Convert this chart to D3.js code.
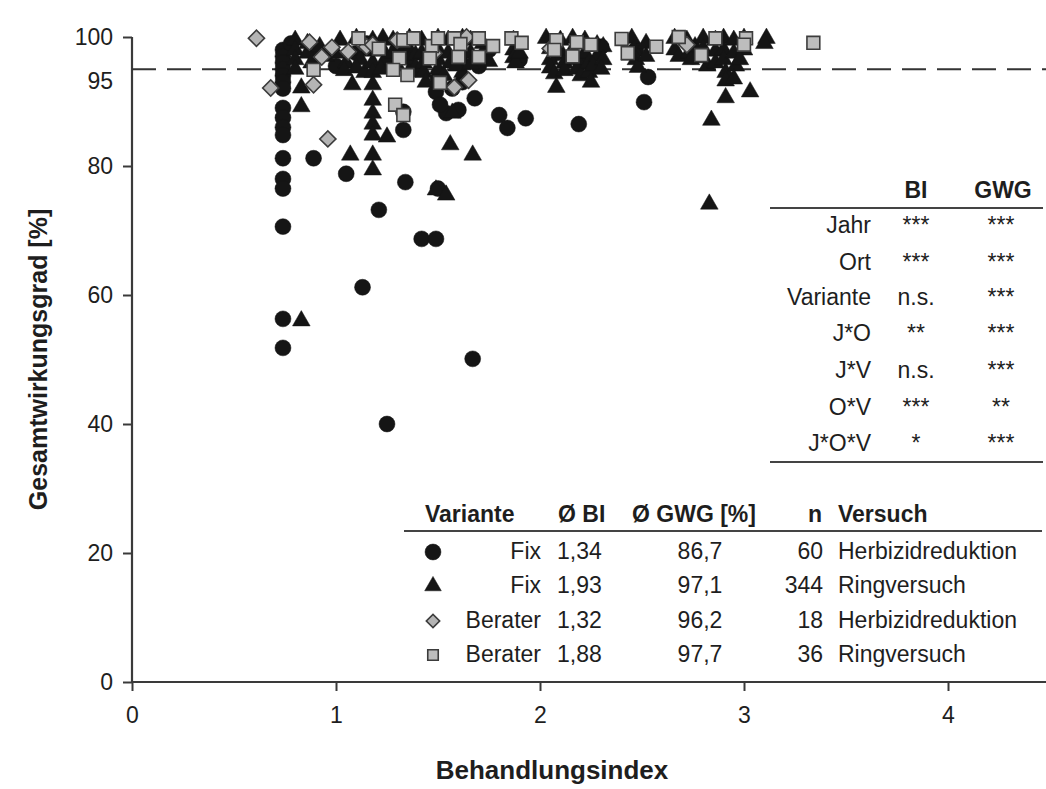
<!DOCTYPE html>
<html>
<head>
<meta charset="utf-8">
<script src="https://cdn.jsdelivr.net/npm/d3@7"></script>
<style>
  html, body { margin: 0; padding: 0; background: #ffffff; }
  svg { display: block; font-family: "Liberation Sans", Arial, sans-serif; }
</style>
</head>
<body>
<svg id="chart" width="1046" height="789"></svg>
<script>
// Behandlungsindex (BI) vs. Gesamtwirkungsgrad (GWG) per plot

// Fix, Herbizidreduktion (circles)
const fixHerbizid = [
  [0.74, 98], [0.74, 97], [0.74, 96], [0.74, 95], [0.74, 94], [0.74, 93], [0.74, 92],
  [0.74, 89], [0.74, 87.5], [0.74, 86], [0.74, 84.8], [0.74, 81.2], [0.74, 78],
  [0.74, 76.5], [0.74, 70.6], [0.74, 56.3], [0.74, 51.8],
  [0.89, 81.2], [1.05, 78.8], [1.13, 61.2], [1.21, 73.2], [1.25, 40], [1.34, 77.5],
  [1.42, 68.7], [1.49, 68.7], [1.67, 50.1], [1.33, 88.4], [1.33, 85.6], [1.49, 91.5],
  [1.54, 88.2], [1.6, 88.7], [1.68, 90.5], [1.51, 89.5], [1.8, 87.9], [1.84, 85.9],
  [1.93, 87.4], [2.19, 86.5], [2.53, 93.8], [2.51, 89.9], [1.5, 76.5],
  [0.78, 99], [0.9, 97], [1.0, 95.5], [1.1, 97.5], [1.15, 99], [1.25, 96], [1.3, 98],
  [1.38, 95], [1.45, 97], [1.5, 93.5], [1.57, 92], [1.62, 93], [1.7, 95.5], [1.75, 98],
  [1.9, 96.5], [2.08, 97.5], [2.2, 96], [2.3, 98.5], [2.47, 98], [2.75, 97]
];

// Fix, Ringversuch (triangles)
const fixRing = [
  [0.80, 99.5], [0.80, 98], [0.80, 96.5], [0.80, 95], [0.83, 92.1], [0.83, 89.2], [0.83, 56],
  [0.86, 99], [0.86, 97.5], [0.88, 96], [0.92, 98.5], [0.95, 97],
  [1.02, 99.5], [1.0, 97.5], [1.05, 96], [1.08, 92.6], [1.07, 81.7], [1.04, 94.8],
  [1.1, 99.8], [1.12, 98], [1.12, 96.5], [1.1, 95.2], [1.14, 94.5],
  [1.18, 99.5], [1.18, 97.8], [1.18, 96], [1.18, 94.5], [1.18, 92.6], [1.18, 90.2],
  [1.18, 88.2], [1.18, 86.5], [1.18, 84.8], [1.18, 81.7], [1.18, 79.4],
  [1.23, 99.8], [1.23, 98], [1.24, 96.5], [1.25, 84.5], [1.22, 95],
  [1.28, 99.5], [1.28, 97.5], [1.3, 95.5], [1.32, 98.8],
  [1.36, 99.8], [1.36, 98], [1.36, 96.5], [1.39, 97.2], [1.39, 95.3],
  [1.42, 99.5], [1.42, 97.5], [1.43, 96], [1.43, 94.5], [1.44, 93],
  [1.5, 99.8], [1.5, 98], [1.5, 96.5], [1.5, 95], [1.49, 76.3], [1.54, 75.5],
  [1.55, 99.5], [1.55, 97.5], [1.56, 96], [1.56, 83.3], [1.57, 88.2], [1.53, 94],
  [1.62, 99.8], [1.62, 98], [1.62, 96.5], [1.62, 94.5], [1.59, 95.5],
  [1.66, 99.5], [1.66, 97.5], [1.67, 81.7], [1.66, 95.8],
  [1.72, 99], [1.72, 97.5], [1.75, 96.2],
  [1.87, 99.5], [1.87, 98], [1.87, 96.8], [1.88, 96], [1.9, 97.5],
  [2.03, 99.8], [2.05, 98.2], [2.05, 96.5], [2.05, 95.2], [2.08, 92.2], [2.07, 94.3],
  [2.1, 99.5], [2.1, 97.8], [2.12, 96], [2.12, 94.8],
  [2.16, 99.8], [2.16, 98], [2.18, 96.5], [2.18, 95], [2.2, 94],
  [2.22, 99.5], [2.22, 97.5], [2.24, 96], [2.24, 94.5],
  [2.28, 98.8], [2.28, 97], [2.26, 95.5], [2.25, 93],
  [2.31, 98.5], [2.31, 96.5], [2.3, 95],
  [2.45, 99.8], [2.46, 98], [2.47, 96.5], [2.48, 95.3], [2.44, 97.2],
  [2.52, 99], [2.52, 97],
  [2.66, 99.8], [2.66, 98], [2.68, 97],
  [2.72, 99.5], [2.73, 97.5], [2.74, 96.5], [2.76, 98.5],
  [2.8, 99.8], [2.8, 98.2], [2.8, 96.8], [2.82, 95.5],
  [2.86, 99.5], [2.86, 97.8], [2.86, 96], [2.84, 87.1], [2.83, 74.1],
  [2.9, 99.8], [2.9, 98], [2.9, 96.5], [2.91, 94.5], [2.91, 93.2], [2.91, 90.6],
  [2.95, 99.5], [2.95, 97.5], [2.96, 95.5], [2.95, 93.5],
  [3.0, 99.8], [3.0, 98], [3.03, 91.5], [2.98, 96.5],
  [3.11, 99.8], [3.1, 99]
];

// Berater, Herbizidreduktion (diamonds)
const beraterHerbizid = [
  [0.61, 99.8], [0.68, 92.1], [0.87, 99.2], [0.89, 92.6], [0.93, 96.9], [0.96, 84.2],
  [0.98, 98.4], [1.06, 97.7], [1.12, 99.3], [1.15, 98.5], [1.18, 98.8], [1.3, 99.5],
  [1.48, 97.5], [1.58, 92.2], [1.65, 93.3], [1.64, 100], [2.05, 98.2], [2.72, 98.8]
];

// Berater, Ringversuch (squares)
const beraterRing = [
  [0.89, 94.9], [1.11, 99.8], [1.33, 99.5], [1.38, 99.8], [1.31, 96.7], [1.28, 94.9],
  [1.35, 94.1], [1.47, 98.6], [1.5, 99.8], [1.46, 96.7], [1.58, 99.8], [1.61, 98.9],
  [1.6, 96.9], [1.7, 99.8], [1.7, 96.9], [1.77, 98.6], [1.51, 92.9], [1.29, 89.5],
  [1.33, 87.9], [1.86, 99.8], [1.91, 99.1], [2.08, 99.5], [2.07, 98], [2.18, 99.2],
  [2.16, 97], [2.4, 99.7], [2.43, 97.5], [2.57, 98.5], [2.68, 100], [2.79, 97.2],
  [2.86, 99.8], [3.01, 99.8], [3.0, 98.8], [3.34, 99.1], [1.21, 98.2], [2.25, 98.8]
];

const xTicks = [0, 1, 2, 3, 4];
const yTicks = [0, 20, 40, 60, 80, 100];
const targetLevel = 95;

// Summary table below the points
const legendHeader = ["Variante", "Ø BI", "Ø GWG [%]", "n", "Versuch"];
const legendVariante = ["Fix", "Fix", "Berater", "Berater"];
const legendBI = ["1,34", "1,93", "1,32", "1,88"];
const legendGWG = ["86,7", "97,1", "96,2", "97,7"];
const legendN = ["60", "344", "18", "36"];
const legendVersuch = ["Herbizidreduktion", "Ringversuch", "Herbizidreduktion", "Ringversuch"];
const legendShape = ["circle", "triangle", "diamond", "square"];

// ANOVA significance table
const effects = ["Jahr", "Ort", "Variante", "J*O", "J*V", "O*V", "J*O*V"];
const sigBI = ["***", "***", "n.s.", "**", "n.s.", "***", "*"];
const sigGWG = ["***", "***", "***", "***", "***", "**", "***"];

const svg = d3.select("#chart");
const x = d3.scaleLinear().domain([0, 4.5]).range([132, 1050]);
const y = d3.scaleLinear().domain([0, 100]).range([682, 37]);

const axisColor = "#3a3a3a";
const textColor = "#1e1e1e";
const fontSize = "23px";

// Axes
const xAxis = svg.append("g").attr("transform", `translate(0,${y(0)})`)
  .call(d3.axisBottom(x).tickValues(xTicks).tickSize(9).tickPadding(16).tickFormat(d3.format("d")));
const yAxis = svg.append("g").attr("transform", `translate(${x(0)},0)`)
  .call(d3.axisLeft(y).tickValues(yTicks).tickSize(9).tickPadding(10).tickFormat(d3.format("d")));
[xAxis, yAxis].forEach(g => {
  g.select(".domain").attr("stroke", axisColor).attr("stroke-width", 2.2);
  g.selectAll(".tick line").attr("stroke", axisColor).attr("stroke-width", 2);
  g.selectAll(".tick text").attr("fill", textColor).style("font-size", fontSize)
    .style("font-family", "'Liberation Sans', Arial, sans-serif");
});
yAxis.select(".domain").attr("d", `M0,${y(0)}V${y(100)}`);
xAxis.select(".domain").attr("d", `M${x(0)},0H${x(4.5)}`);

// Extra label for the 95 % line (no tick)
svg.append("text").attr("x", x(0) - 19).attr("y", y(targetLevel) + 20)
  .attr("text-anchor", "end").attr("fill", textColor).style("font-size", fontSize).text("95");

// Dashed 95 % reference line
svg.append("line")
  .attr("x1", x(0)).attr("x2", x(4.5)).attr("y1", y(targetLevel)).attr("y2", y(targetLevel))
  .attr("stroke", "#333").attr("stroke-width", 2).attr("stroke-dasharray", "24,11");

// Axis titles
svg.append("text").attr("transform", `translate(38,${(y(0) + y(100)) / 2}) rotate(-90)`)
  .attr("text-anchor", "middle").attr("dominant-baseline", "central")
  .attr("fill", textColor).style("font-size", "25px").style("font-weight", "bold")
  .text("Gesamtwirkungsgrad [%]");
svg.append("text").attr("x", 552).attr("y", 779)
  .attr("text-anchor", "middle").attr("fill", textColor)
  .style("font-size", "26px").style("font-weight", "bold").text("Behandlungsindex");

// Marker styles
const shapes = {
  circle: { type: d3.symbolCircle, size: 200, fill: "#151515", stroke: "#151515", sw: 0.5, rot: 0 },
  triangle: { type: d3.symbolTriangle, size: 135, fill: "#151515", stroke: "#151515", sw: 0.5, rot: 0 },
  diamond: { type: d3.symbolSquare, size: 130, fill: "#b4b4b4", stroke: "#3c3c3c", sw: 1.6, rot: 45 },
  square: { type: d3.symbolSquare, size: 165, fill: "#bdbdbd", stroke: "#3c3c3c", sw: 1.6, rot: 0 }
};

function drawSeries(data, key) {
  const s = shapes[key];
  svg.append("g").selectAll("path").data(data).join("path")
    .attr("d", d3.symbol().type(s.type).size(s.size))
    .attr("transform", d => `translate(${x(d[0])},${y(d[1])}) rotate(${s.rot})`)
    .attr("fill", s.fill).attr("stroke", s.stroke).attr("stroke-width", s.sw);
}
drawSeries(fixHerbizid, "circle");
drawSeries(fixRing, "triangle");
drawSeries(beraterHerbizid, "diamond");
drawSeries(beraterRing, "square");

// Summary table
const lg = svg.append("g").attr("fill", textColor).style("font-size", fontSize);
const headerY = 522;
const hdr = [
  { t: legendHeader[0], x: 425, a: "start" },
  { t: legendHeader[1], x: 558, a: "start" },
  { t: legendHeader[2], x: 632, a: "start" },
  { t: legendHeader[3], x: 815, a: "middle" },
  { t: legendHeader[4], x: 838, a: "start" }
];
lg.selectAll("text.h").data(hdr).join("text").attr("class", "h")
  .attr("x", d => d.x).attr("y", headerY).attr("text-anchor", d => d.a)
  .style("font-weight", "bold").text(d => d.t);
lg.append("line").attr("x1", 404).attr("x2", 1042).attr("y1", 531).attr("y2", 531)
  .attr("stroke", "#444").attr("stroke-width", 2);
const rowY = [551, 585, 620, 654];
const legendSizes = { circle: 200, triangle: 120, diamond: 90, square: 110 };
legendShape.forEach((k, i) => {
  const s = shapes[k];
  lg.append("path").attr("d", d3.symbol().type(s.type).size(legendSizes[k]))
    .attr("transform", `translate(433,${rowY[i] + 1}) rotate(${s.rot})`)
    .attr("fill", s.fill).attr("stroke", s.stroke).attr("stroke-width", s.sw);
  const by = rowY[i] + 8;
  lg.append("text").attr("x", 541).attr("y", by).attr("text-anchor", "end").text(legendVariante[i]);
  lg.append("text").attr("x", 557).attr("y", by).text(legendBI[i]);
  lg.append("text").attr("x", 700).attr("y", by).attr("text-anchor", "middle").text(legendGWG[i]);
  lg.append("text").attr("x", 823).attr("y", by).attr("text-anchor", "end").text(legendN[i]);
  lg.append("text").attr("x", 838).attr("y", by).text(legendVersuch[i]);
});

// Significance table
const st = svg.append("g").attr("fill", textColor).style("font-size", fontSize);
st.append("text").attr("x", 916).attr("y", 198).attr("text-anchor", "middle")
  .style("font-weight", "bold").text("BI");
st.append("text").attr("x", 1003).attr("y", 198).attr("text-anchor", "middle")
  .style("font-weight", "bold").text("GWG");
st.append("line").attr("x1", 770).attr("x2", 1043).attr("y1", 208).attr("y2", 208)
  .attr("stroke", "#444").attr("stroke-width", 2);
const effY = [225, 262, 297, 333, 370, 407, 443];
effects.forEach((e, i) => {
  const by = effY[i] + 8;
  st.append("text").attr("x", 871).attr("y", by).attr("text-anchor", "end").text(e);
  st.append("text").attr("x", 916).attr("y", by).attr("text-anchor", "middle").text(sigBI[i]);
  st.append("text").attr("x", 1001).attr("y", by).attr("text-anchor", "middle").text(sigGWG[i]);
});
st.append("line").attr("x1", 770).attr("x2", 1043).attr("y1", 462).attr("y2", 462)
  .attr("stroke", "#444").attr("stroke-width", 2);
</script>
</body>
</html>
